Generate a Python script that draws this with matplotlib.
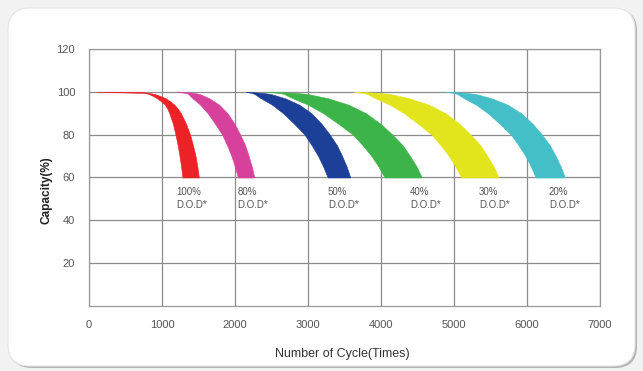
import matplotlib
matplotlib.use("Agg")
import matplotlib.pyplot as plt
import matplotlib.patches as mpatches

plt.rcParams['font.family'] = ['Liberation Sans', 'DejaVu Sans']

# capacity levels (%) at which the band edges are read
levels = [100, 99.5, 99, 98, 97, 95.5, 94, 92, 90, 85, 80, 75, 70, 65, 60]

# inner (left/lower) and outer (right/upper) edges of each band, in cycles
red_in    = [100, 760, 820, 880, 930, 990, 1040, 1075, 1100, 1150, 1185, 1215, 1240, 1262, 1280]
red_out   = [700, 820, 900, 980, 1050, 1115, 1170, 1220, 1260, 1330, 1385, 1425, 1460, 1485, 1505]
pink_in   = [1200, 1330, 1359, 1389, 1418, 1470, 1522, 1574, 1626, 1729, 1825, 1892, 1951, 1999, 2040]
pink_out  = [1300, 1435, 1512, 1580, 1647, 1715, 1783, 1840, 1898, 1995, 2072, 2140, 2188, 2231, 2265]
blue_in   = [2150, 2224, 2267, 2311, 2354, 2431, 2507, 2583, 2660, 2812, 2954, 3052, 3139, 3210, 3270]
blue_out  = [2180, 2376, 2488, 2586, 2684, 2782, 2880, 2964, 3048, 3188, 3300, 3398, 3468, 3531, 3580]
green_in  = [2420, 2610, 2670, 2730, 2790, 2895, 3000, 3105, 3210, 3420, 3615, 3750, 3870, 3968, 4050]
green_out = [2550, 2831, 2992, 3133, 3274, 3414, 3555, 3676, 3796, 3997, 4158, 4299, 4399, 4490, 4560]
yel_in    = [3620, 3756, 3812, 3868, 3924, 4022, 4120, 4218, 4316, 4512, 4694, 4820, 4932, 5023, 5100]
yel_out   = [3700, 3968, 4121, 4254, 4388, 4522, 4656, 4771, 4885, 5077, 5230, 5363, 5459, 5545, 5612]
cyan_in   = [4880, 4997, 5044, 5090, 5137, 5219, 5301, 5383, 5465, 5629, 5781, 5886, 5980, 6056, 6120]
cyan_out  = [4950, 5170, 5295, 5405, 5515, 5625, 5735, 5829, 5923, 6080, 6206, 6316, 6394, 6465, 6520]

bands = [
    (red_in, red_out, '#ec2227'),
    (pink_in, pink_out, '#d7419c'),
    (blue_in, blue_out, '#1c3f97'),
    (green_in, green_out, '#3db44a'),
    (yel_in, yel_out, '#e2e41c'),
    (cyan_in, cyan_out, '#44bfc8'),
]

dod_labels = ['100%', '80%', '50%', '40%', '30%', '20%']
dod_label_x = [1190, 2030, 3275, 4400, 5345, 6300]

x_ticks = [0, 1000, 2000, 3000, 4000, 5000, 6000, 7000]
y_ticks = [20, 40, 60, 80, 100, 120]

fig = plt.figure(figsize=(6.43, 3.71), dpi=100, facecolor='#f2f2f2')

# rounded white panel with soft shadow
shadow = mpatches.FancyBboxPatch((10, 3), 627, 359,
                                 boxstyle="round,pad=0,rounding_size=22",
                                 transform=None, facecolor='#b5b5b5',
                                 edgecolor='none', zorder=-3)
panel = mpatches.FancyBboxPatch((8, 5), 627, 358,
                                boxstyle="round,pad=0,rounding_size=22",
                                transform=None, facecolor='white',
                                edgecolor='#e6e6e6', linewidth=0.8, zorder=-2)
fig.add_artist(shadow)
fig.add_artist(panel)

ax = fig.add_axes([0.1384, 0.1752, 0.7946, 0.6928])
ax.set_zorder(1)
ax.patch.set_visible(False)
ax.set_xlim(0, 7000)
ax.set_ylim(0, 120)
ax.set_xticks(x_ticks)
ax.set_yticks(y_ticks)
ax.set_xticklabels([str(v) for v in x_ticks])
ax.set_yticklabels([str(v) for v in y_ticks])
ax.tick_params(length=0, labelsize=8, labelcolor='#555555')
ax.tick_params(axis='y', pad=10)
ax.tick_params(axis='x', pad=10)
ax.grid(True, color='#8c8c8c', linewidth=0.9)
ax.set_axisbelow(True)
for side in ['left', 'bottom', 'top', 'right']:
    ax.spines[side].set_color('#9a9a9a')
    ax.spines[side].set_linewidth(0.9)

for xin, xout, col in bands:
    ax.fill_betweenx(levels, xin, xout, color=col, linewidth=0.4,
                     edgecolor=col, zorder=3)

for lab, lx in zip(dod_labels, dod_label_x):
    ax.text(lx, 53.2, lab, fontsize=7, color='#555555', ha='left', va='center')
    ax.text(lx, 47.2, 'D.O.D*', fontsize=7, color='#555555', ha='left', va='center')

ax.set_xlabel('Number of Cycle(Times)', fontsize=9, color='#333333')
ax.xaxis.set_label_coords(0.495, -0.165)
ax.set_ylabel('Capacity(%)', fontsize=8.5, fontweight='bold', color='#222222')
ax.yaxis.set_label_coords(-0.072, 0.45)

fig.savefig('out.png', dpi=100, facecolor=fig.get_facecolor())
